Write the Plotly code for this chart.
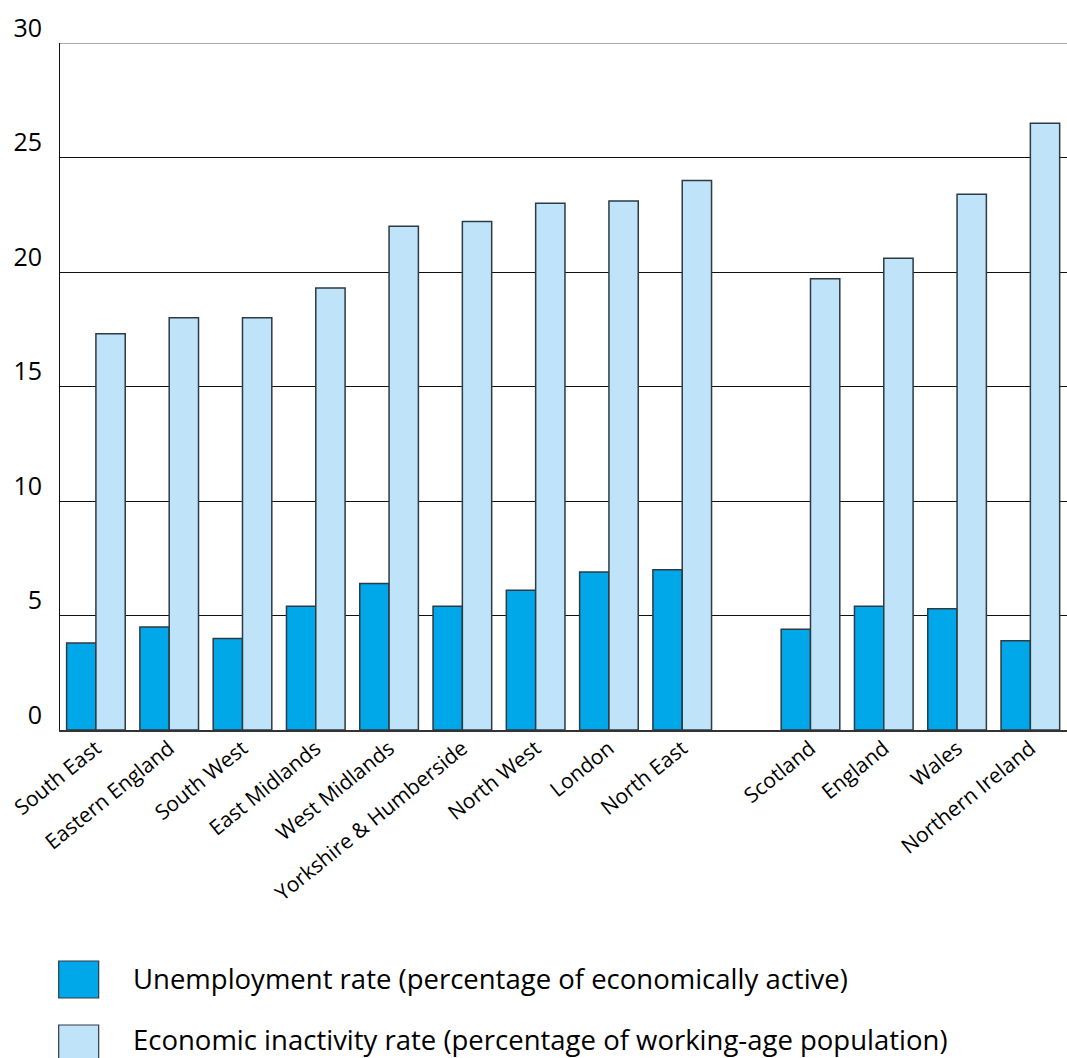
import plotly.graph_objects as go

# Regional labour-market rates (%)
regions = ["South East", "Eastern England", "South West", "East Midlands",
           "West Midlands", "Yorkshire & Humberside", "North West", "London",
           "North East"]
nations = ["Scotland", "England", "Wales", "Northern Ireland"]

unemployment = [3.8, 4.5, 4.0, 5.4, 6.4, 5.4, 6.1, 6.9, 7.0,
                4.4, 5.4, 5.3, 3.9]
inactivity = [17.3, 18.0, 18.0, 19.3, 22.0, 22.2, 23.0, 23.1, 24.0,
              19.7, 20.6, 23.4, 26.5]

y_ticks = [0, 5, 10, 15, 20, 25, 30]

series_names = ["Unemployment rate (percentage of economically active)",
                "Economic inactivity rate (percentage of working-age population)"]

# Layout: English regions, then a gap, then the four nations
NATION_GAP = 0.75
categories = regions + nations
xpos = [i for i in range(len(regions))] + \
       [len(regions) + NATION_GAP + i for i in range(len(nations))]

C_UNEMP = "#00A8EA"
C_INACT = "#BFE3F8"
OUTLINE = "#2e3a44"
FONT = "Open Sans, Noto Sans, sans-serif"

fig = go.Figure()
fig.add_trace(go.Bar(x=xpos, y=unemployment, name=series_names[0],
                     marker=dict(color=C_UNEMP, line=dict(color=OUTLINE, width=1.5))))
fig.add_trace(go.Bar(x=xpos, y=inactivity, name=series_names[1],
                     marker=dict(color=C_INACT, line=dict(color=OUTLINE, width=1.5))))

# Plot area geometry (pixels) used to place the legend below the chart
W, H = 1067, 1058
M_TOP, M_BOT = 43, 328
plot_h = H - M_TOP - M_BOT

def paper_y(px):
    return (H - M_BOT - px) / plot_h

# Legend drawn as large swatches with labels below the chart
legend_rows = [(C_UNEMP, 961, 998, 978, series_names[0]),
               (C_INACT, 1025, 1062, 1039, series_names[1])]
shapes = []
annotations = []
for color, top, bot, text_y, label in legend_rows:
    shapes.append(dict(type="rect", xref="paper", yref="paper",
                       x0=-0.0013, x1=0.0384, y0=paper_y(bot), y1=paper_y(top),
                       fillcolor=color, line=dict(color=OUTLINE, width=1.2)))
    annotations.append(dict(xref="paper", yref="paper", x=0.0702,
                            y=paper_y(text_y),
                            text=label, showarrow=False, xanchor="left",
                            yanchor="middle",
                            font=dict(size=27.5, color="#000", family=FONT)))

# Top border of the plot at the last gridline value
shapes.append(dict(type="line", xref="paper", yref="y", x0=0, x1=1,
                   y0=y_ticks[-1], y1=y_ticks[-1],
                   line=dict(color="#555", width=1.2)))

fig.update_layout(
    width=W, height=H,
    margin=dict(l=60, r=0, t=M_TOP, b=M_BOT),
    paper_bgcolor="white", plot_bgcolor="white",
    barmode="group", bargap=0.2, bargroupgap=0,
    showlegend=False,
    font=dict(family=FONT, color="#000"),
    xaxis=dict(range=[-0.49, 13.25], tickvals=xpos, ticktext=categories,
               tickangle=-39, tickfont=dict(size=21, color="#000"), showgrid=False,
               showline=True, linecolor="#333", linewidth=2, ticks="",
               zeroline=False, fixedrange=True, ticklabelstandoff=-4),
    yaxis=dict(range=[0, 30], tickvals=y_ticks, tickfont=dict(size=25, color="#000"),
               showgrid=True, gridcolor="#111", gridwidth=1,
               showline=True, linecolor="#111", linewidth=1, ticks="",
               zeroline=False, ticklabelshift=-15, ticklabelstandoff=12),
    annotations=annotations,
    shapes=shapes,
)

fig.write_html("out.html")
